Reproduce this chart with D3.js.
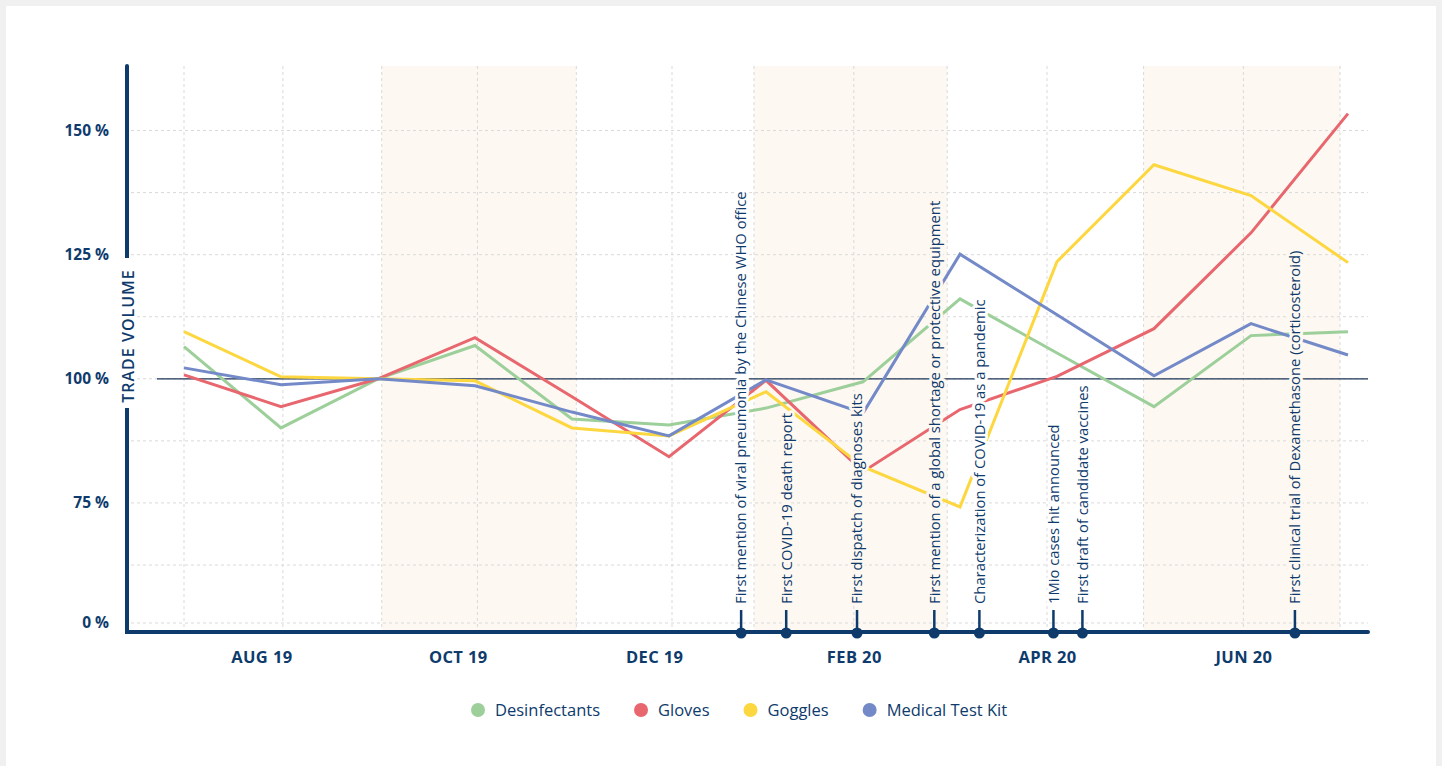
<!DOCTYPE html>
<html>
<head>
<meta charset="utf-8">
<script src="https://cdnjs.cloudflare.com/ajax/libs/d3/7.8.5/d3.min.js"></script>
<style>
  body { margin: 0; background: #f0f0f0; font-family: "Open Sans", "Noto Sans", sans-serif; }
  .grid line { stroke: #d9d9d9; stroke-dasharray: 3, 3; stroke-width: 1; }
  .tick-label { fill: #0e3b6c; font-weight: 700; font-size: 15.5px; }
  .month-label { fill: #0e3b6c; font-weight: 700; font-size: 16.5px; letter-spacing: 0.4px; }
  .event-text { fill: #0e3b6c; font-size: 14.8px; }
  .legend-text { fill: #0e3b6c; font-size: 16.5px; }
</style>
</head>
<body>
<div id="chart"></div>
<script>
// Values
var months = ["Jul 19", "Aug 19", "Sep 19", "Oct 19", "Nov 19", "Dec 19",
              "Jan 20", "Feb 20", "Mar 20", "Apr 20", "May 20", "Jun 20", "Jul 20"];
var desinfectants = [106.5, 90.1, 100, 106.7, 91.9, 90.7, 94.1, 99.4, 116.1, 105.2, 94.4, 108.7, 109.5];
var gloves        = [100.8, 94.4, 100, 108.3, 96.4, 84.3, 99.7, 81.3, 93.8, 100.5, 110.1, 129.4, 153.4];
var goggles       = [109.5, 100.4, 100, 99.6, 90.1, 88.5, 97.4, 82.3, 74.2, 123.6, 143.1, 136.9, 123.4];
var medicalTestKit = [102.2, 98.8, 100, 98.6, 93.3, 88.5, 99.8, 93.1, 125.1, 112.9, 100.6, 111.1, 104.8];

var seriesNames = ["Desinfectants", "Gloves", "Goggles", "Medical Test Kit"];
var seriesValues = [desinfectants, gloves, goggles, medicalTestKit];
var seriesColors = ["#9ccf9a", "#e8676f", "#fdd73f", "#7389c8"];

var yTickValues = [0, 75, 100, 125, 150];
var yGridValues = [0, 62.5, 75, 87.5, 100, 112.5, 125, 137.5, 150];

var gridMonths = ["2019-07-01", "2019-08-01", "2019-09-01", "2019-10-01", "2019-11-01", "2019-12-01",
                  "2020-01-01", "2020-02-01", "2020-03-01", "2020-04-01", "2020-05-01", "2020-06-01", "2020-07-01"];
var bandStarts = ["2019-09-01", "2020-01-01", "2020-05-01"];
var bandEnds   = ["2019-11-01", "2020-03-01", "2020-07-01"];

var labelDates = ["2019-08-01", "2019-10-01", "2019-12-01", "2020-02-01", "2020-04-01", "2020-06-01"];
var labelTexts = ["AUG 19", "OCT 19", "DEC 19", "FEB 20", "APR 20", "JUN 20"];

var eventDates = ["2019-12-28", "2020-01-11", "2020-02-02", "2020-02-26",
                  "2020-03-11", "2020-04-03", "2020-04-12", "2020-06-17"];
var eventTexts = [
  "First mention of viral pneumonia by the Chinese WHO office",
  "First COVID-19 death report",
  "First dispatch of diagnoses kits",
  "First mention of a global shortage or protective equipment",
  "Characterization of COVID-19 as a pandemic",
  "1Mio cases hit announced",
  "First draft of candidate vaccines",
  "First clinical trial of Dexamethasone (corticosteroid)"
];

// layout
var W = 1442, H = 766,
    plot = {left: 127, right: 1368, top: 66, bottom: 632};
var navy = "#0e3b6c", bandColor = "#fdf8f1";
var parse = d3.utcParse("%Y-%m-%d");

var svg = d3.select("#chart").append("svg")
    .attr("width", W)
    .attr("height", H)
    .style("display", "block");

svg.append("rect").attr("x", 6).attr("y", 6).attr("width", 1430).attr("height", H - 6).attr("fill", "#fff");

// scales
var x = d3.scalePoint().domain(months).range([184, 1348]);
var xGrid = d3.scaleUtc()
    .domain([parse("2019-07-01"), parse("2019-12-01"), parse("2020-01-01"), parse("2020-07-01")])
    .range([184, 672, 754, 1340]);
var xTime = d3.scaleUtc()
    .domain([parse("2020-01-01"), parse("2020-07-01")])
    .range([754, 1340]);
// broken axis: 0 .. 62.5 is squeezed
var y = d3.scaleLinear().domain([0, 62.5, 163]).range([623, 565, plot.top]);

// shaded bands
svg.append("g").selectAll("rect")
    .data(bandStarts)
    .join("rect")
    .attr("x", function(d) { return xGrid(parse(d)); })
    .attr("width", function(d, i) { return xGrid(parse(bandEnds[i])) - xGrid(parse(d)); })
    .attr("y", plot.top)
    .attr("height", plot.bottom - plot.top)
    .attr("fill", bandColor);

// grid
var grid = svg.append("g").attr("class", "grid");
grid.selectAll(".h")
    .data(yGridValues)
    .join("line")
    .attr("class", "h")
    .attr("x1", plot.left + 4).attr("x2", plot.right)
    .attr("y1", function(d) { return y(d); })
    .attr("y2", function(d) { return y(d); });
grid.selectAll(".v")
    .data(gridMonths)
    .join("line")
    .attr("class", "v")
    .attr("x1", function(d) { return xGrid(parse(d)); })
    .attr("x2", function(d) { return xGrid(parse(d)); })
    .attr("y1", plot.top).attr("y2", plot.bottom);

// 100 % reference line
svg.append("line")
    .attr("x1", 157).attr("x2", plot.right)
    .attr("y1", y(100)).attr("y2", y(100))
    .attr("stroke", "#1c3557")
    .attr("stroke-width", 1.2);

// series lines
var line = d3.line()
    .x(function(d, i) { return x(months[i]); })
    .y(function(d) { return y(d); });

svg.append("g").selectAll("path")
    .data(seriesValues)
    .join("path")
    .attr("d", line)
    .attr("fill", "none")
    .attr("stroke", function(d, i) { return seriesColors[i]; })
    .attr("stroke-width", 3)
    .attr("stroke-linejoin", "miter");

// event annotations
function inBand(px) {
  return bandStarts.some(function(d, i) {
    return px >= xGrid(parse(d)) && px <= xGrid(parse(bandEnds[i]));
  });
}
var events = svg.append("g");
events.selectAll("text")
    .data(eventDates)
    .join("text")
    .attr("class", "event-text")
    .attr("transform", function(d) { return "translate(" + xTime(parse(d)) + ",604) rotate(-90)"; })
    .attr("dy", "0.36em")
    .attr("stroke", function(d) { return inBand(xTime(parse(d))) ? bandColor : "#fff"; })
    .attr("stroke-width", 6)
    .attr("stroke-linejoin", "round")
    .attr("paint-order", "stroke")
    .text(function(d, i) { return eventTexts[i]; });

// axis lines
svg.append("path")
    .attr("d", "M" + plot.left + "," + plot.top + "V" + plot.bottom + "H" + plot.right)
    .attr("fill", "none")
    .attr("stroke", navy)
    .attr("stroke-width", 4)
    .attr("stroke-linecap", "round");

// y axis title with a gap in the axis line
svg.append("rect")
    .attr("x", plot.left - 8).attr("y", 258)
    .attr("width", 16).attr("height", 150)
    .attr("fill", "#fff");
svg.append("text")
    .attr("transform", "translate(" + (plot.left + 1) + ",336) rotate(-90)")
    .attr("text-anchor", "middle")
    .attr("dy", "0.36em")
    .attr("fill", navy)
    .style("font-size", "16px")
    .style("font-weight", 600)
    .style("letter-spacing", "1px")
    .text("TRADE VOLUME");

// y tick labels
var yAxis = svg.append("g")
    .attr("transform", "translate(" + plot.left + ",0)")
    .call(d3.axisLeft(y).tickValues(yTickValues).tickSize(0).tickPadding(18)
        .tickFormat(function(d) { return d + " %"; }));
yAxis.select(".domain").remove();
yAxis.selectAll("text").attr("class", "tick-label").attr("fill", null);
yAxis.attr("font-family", null).attr("font-size", null);

// x month labels
var xAxis = svg.append("g")
    .attr("transform", "translate(0," + plot.bottom + ")")
    .call(d3.axisBottom(xTime).tickValues(labelDates.map(parse)).tickSize(0).tickPadding(19)
        .tickFormat(function(d, i) { return labelTexts[i]; }));
xAxis.select(".domain").remove();
xAxis.selectAll("text").attr("class", "month-label").attr("fill", null);
xAxis.attr("font-family", null).attr("font-size", null);

// event markers on the axis
var marks = svg.append("g").selectAll("g")
    .data(eventDates)
    .join("g")
    .attr("transform", function(d) { return "translate(" + xTime(parse(d)) + ",0)"; });
marks.append("line")
    .attr("y1", 610).attr("y2", plot.bottom)
    .attr("stroke", navy)
    .attr("stroke-width", 2.5);
marks.append("circle")
    .attr("cy", plot.bottom + 1)
    .attr("r", 5.5)
    .attr("fill", navy);

// legend
var legend = svg.append("g").attr("transform", "translate(0,710)");
var lx = 478;
seriesNames.forEach(function(name, i) {
  legend.append("circle")
      .attr("cx", lx).attr("cy", 0)
      .attr("r", 7)
      .attr("fill", seriesColors[i]);
  var t = legend.append("text")
      .attr("class", "legend-text")
      .attr("x", lx + 17)
      .attr("dy", "0.35em")
      .text(name);
  lx = lx + 17 + t.node().getComputedTextLength() + 41;
});
</script>
</body>
</html>
